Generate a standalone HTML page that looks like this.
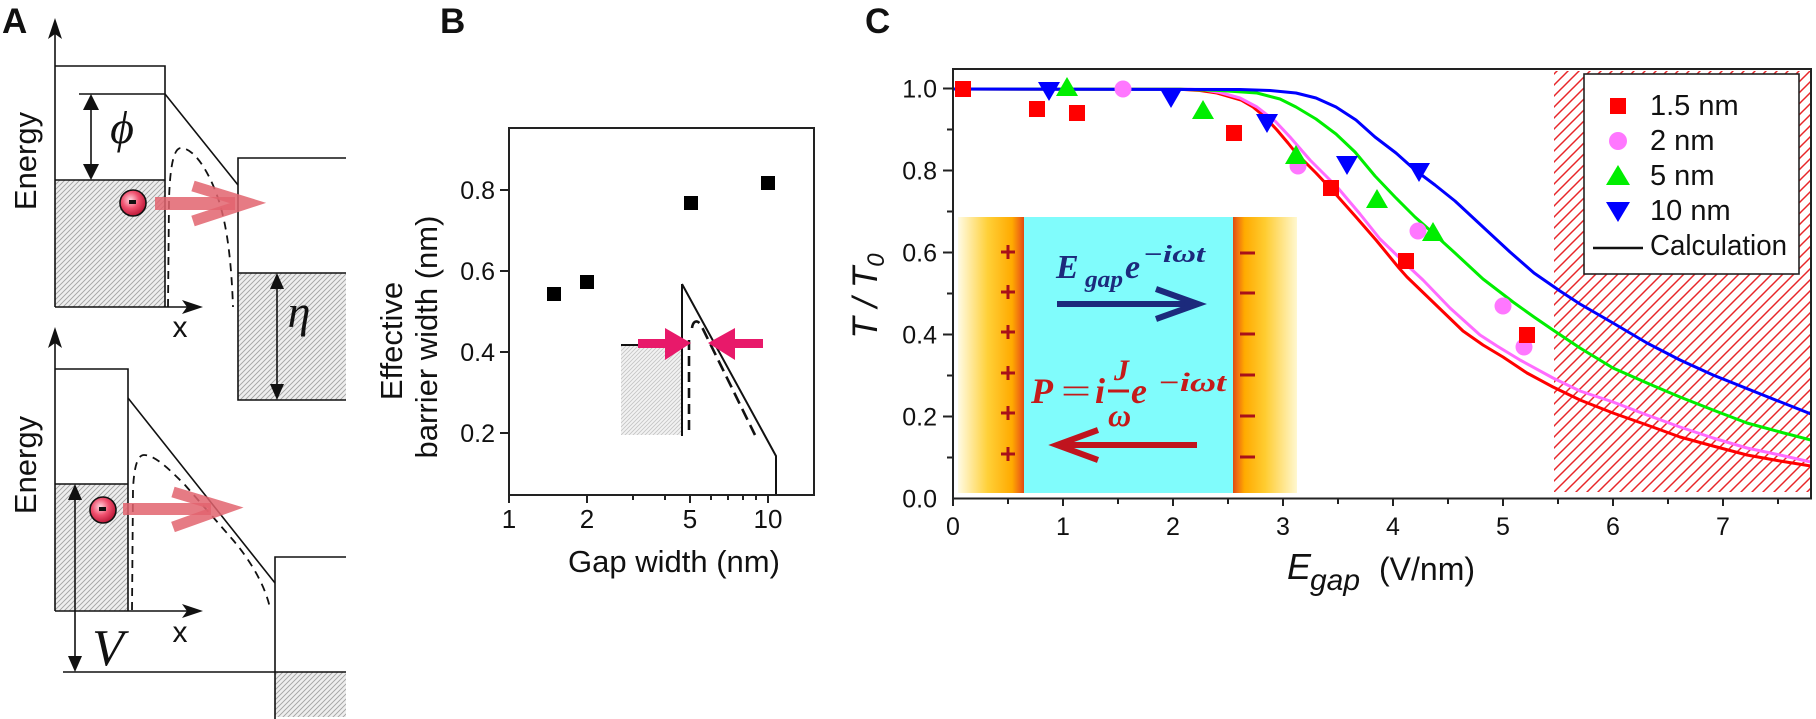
<!DOCTYPE html>
<html><head><meta charset="utf-8"><style>
html,body{margin:0;padding:0;background:#fff;}
svg{display:block;}
text{font-family:"Liberation Sans",Arial,sans-serif;fill:#111;}
.sf{font-family:"Liberation Serif","DejaVu Serif",serif;}
</style></head><body>
<svg width="1816" height="719" viewBox="0 0 1816 719" xmlns="http://www.w3.org/2000/svg">
<defs>
<pattern id="hA" width="5" height="5" patternUnits="userSpaceOnUse">
<rect width="5" height="5" fill="#eeeeee"/>
<path d="M-1,1 L1,-1 M0,5 L5,0 M4,6 L6,4" stroke="#a2a2a2" stroke-width="0.9"/>
</pattern>
<pattern id="hB" width="4" height="4" patternUnits="userSpaceOnUse">
<rect width="4" height="4" fill="#f2f2f2"/>
<path d="M-1,1 L1,-1 M0,4 L4,0 M3,5 L5,3" stroke="#c4c4c4" stroke-width="0.8"/>
</pattern>
<pattern id="hC" width="11" height="11" patternUnits="userSpaceOnUse">
<path d="M-1,1 L1,-1 M0,11 L11,0 M10,12 L12,10" stroke="#e8262a" stroke-width="1.5"/>
</pattern>
<radialGradient id="el" cx="0.4" cy="0.38" r="0.65">
<stop offset="0" stop-color="#ffd6e0"/><stop offset="0.5" stop-color="#f0506e"/><stop offset="1" stop-color="#b81434"/>
</radialGradient>
<linearGradient id="gl" x1="0" x2="1" y1="0" y2="0">
<stop offset="0" stop-color="#fffbe4"/><stop offset="0.45" stop-color="#ffd038"/><stop offset="0.82" stop-color="#ffaa00"/><stop offset="0.93" stop-color="#f07010"/><stop offset="1" stop-color="#e04a10"/>
</linearGradient>
<linearGradient id="gr" x1="1" x2="0" y1="0" y2="0">
<stop offset="0" stop-color="#fff8d0"/><stop offset="0.5" stop-color="#ffcc30"/><stop offset="0.82" stop-color="#ffaa00"/><stop offset="0.93" stop-color="#f07010"/><stop offset="1" stop-color="#e04a10"/>
</linearGradient>
<clipPath id="cp"><rect x="953" y="69" width="858" height="429"/></clipPath>
</defs>

<!-- ================= PANEL A ================= -->
<text x="2" y="33" font-size="35" font-weight="bold">A</text>
<!-- top diagram -->
<rect x="55" y="180" width="110" height="127" fill="url(#hA)"/>
<rect x="238" y="273" width="108" height="127" fill="url(#hA)"/>
<g stroke="#111" stroke-width="1.6" fill="none">
<line x1="55" y1="307" x2="55" y2="30"/>
<polyline points="55,66 165,66 165,307"/>
<line x1="79" y1="94" x2="165" y2="94"/>
<line x1="165" y1="94" x2="238" y2="185"/>
<line x1="55" y1="180" x2="165" y2="180"/>
<line x1="55" y1="307" x2="190" y2="307"/>
<polyline points="346,158 238,158 238,400 346,400"/>
<line x1="238" y1="273" x2="346" y2="273"/>
<line x1="91" y1="106" x2="91" y2="168"/>
<line x1="277" y1="286" x2="277" y2="388"/>
</g>
<path d="M55,18 L48,39 L55,34 L62,39 Z" fill="#111"/>
<path d="M203,307 L182,300 L187,307 L182,314 Z" fill="#111"/>
<path d="M91,94 L83,110 L99,110 Z M91,180 L83,164 L99,164 Z" fill="#111"/>
<path d="M277,273 L270,289 L284,289 Z M277,400 L270,384 L284,384 Z" fill="#111"/>
<path d="M168,307 L169,200 C170,165 174,148 181,148 C192,148 205,165 215,190 C225,215 231,250 233,307" fill="none" stroke="#111" stroke-width="1.8" stroke-dasharray="8,6"/>
<rect x="155" y="197" width="80" height="13" fill="#e2646e" fill-opacity="0.85"/>
<polyline points="193,186 248,203 193,221" fill="none" stroke="#e2646e" stroke-opacity="0.85" stroke-width="11"/>
<circle cx="133" cy="203" r="13" fill="url(#el)" stroke="#111" stroke-width="1.6"/>
<rect x="129" y="200" width="7" height="4" fill="#111"/>
<text x="122" y="143" font-size="46" class="sf" font-style="italic" text-anchor="middle">ϕ</text>
<text x="299" y="327" font-size="46" class="sf" font-style="italic" text-anchor="middle">η</text>
<text x="180" y="337" font-size="30" text-anchor="middle">x</text>
<text transform="translate(36,161) rotate(-90)" font-size="31" text-anchor="middle">Energy</text>

<!-- bottom diagram -->
<rect x="55" y="484" width="73" height="127" fill="url(#hA)"/>
<rect x="275" y="672" width="71" height="45" fill="url(#hA)"/>
<g stroke="#111" stroke-width="1.6" fill="none">
<line x1="55" y1="611" x2="55" y2="340"/>
<polyline points="55,369 128,369 128,611"/>
<line x1="128" y1="398" x2="275" y2="583"/>
<line x1="55" y1="484" x2="128" y2="484"/>
<line x1="55" y1="611" x2="190" y2="611"/>
<line x1="75" y1="498" x2="75" y2="658"/>
<line x1="63" y1="672" x2="346" y2="672"/>
<polyline points="275,719 275,557 346,557"/>
</g>
<path d="M55,327 L48,348 L55,343 L62,348 Z" fill="#111"/>
<path d="M203,611 L182,604 L187,611 L182,618 Z" fill="#111"/>
<path d="M75,484 L68,500 L82,500 Z M75,672 L68,656 L82,656 Z" fill="#111"/>
<path d="M132,610 L133,490 C134,465 138,455 144,455 C155,455 170,470 185,485 L233,540 C250,560 265,585 270,608" fill="none" stroke="#111" stroke-width="1.8" stroke-dasharray="8,6"/>
<rect x="123" y="503" width="88" height="12" fill="#e2646e" fill-opacity="0.85"/>
<polyline points="173,492 226,508 173,527" fill="none" stroke="#e2646e" stroke-opacity="0.85" stroke-width="11"/>
<circle cx="103" cy="510" r="13" fill="url(#el)" stroke="#111" stroke-width="1.6"/>
<rect x="99" y="507" width="7" height="4" fill="#111"/>
<text x="108" y="665" font-size="52" class="sf" font-style="italic" text-anchor="middle">V</text>
<text x="180" y="642" font-size="30" text-anchor="middle">x</text>
<text transform="translate(36,465) rotate(-90)" font-size="31" text-anchor="middle">Energy</text>

<!-- ================= PANEL B ================= -->
<text x="440" y="33" font-size="35" font-weight="bold">B</text>
<!-- inset -->
<rect x="621" y="345" width="60" height="90" fill="url(#hB)"/>
<g stroke="#111" stroke-width="2" fill="none">
<line x1="621" y1="345" x2="642" y2="345"/>
<line x1="682" y1="284" x2="682" y2="436"/>
<polyline points="682,284 776,456 776,494"/>
</g>
<line x1="689" y1="340" x2="689" y2="436" stroke="#111" stroke-width="2.6" stroke-dasharray="10,6"/>
<path d="M692,328 C693,321 697,319 701,325 L755,435" fill="none" stroke="#111" stroke-width="2.6" stroke-dasharray="12,6"/>
<rect x="638" y="339" width="29" height="9" fill="#e8196a"/>
<polygon points="665,328 691,343 665,360" fill="#e8196a"/>
<rect x="733" y="339" width="30" height="9" fill="#e8196a"/>
<polygon points="708,343 735,328 735,360" fill="#e8196a"/>
<!-- frame -->
<rect x="509" y="128" width="305" height="367" fill="none" stroke="#222" stroke-width="2"/>
<g stroke="#222" stroke-width="2">
<line x1="500" y1="190" x2="509" y2="190"/><line x1="500" y1="271" x2="509" y2="271"/>
<line x1="500" y1="352" x2="509" y2="352"/><line x1="500" y1="433" x2="509" y2="433"/>
<line x1="509" y1="495" x2="509" y2="503"/><line x1="587" y1="495" x2="587" y2="503"/>
<line x1="690" y1="495" x2="690" y2="503"/><line x1="768" y1="495" x2="768" y2="503"/>
<line x1="633" y1="495" x2="633" y2="500"/><line x1="665" y1="495" x2="665" y2="500"/>
<line x1="711" y1="495" x2="711" y2="500"/><line x1="728" y1="495" x2="728" y2="500"/>
<line x1="743" y1="495" x2="743" y2="500"/><line x1="756" y1="495" x2="756" y2="500"/>
</g>
<g font-size="25" text-anchor="end">
<text x="495" y="199">0.8</text><text x="495" y="280">0.6</text>
<text x="495" y="361">0.4</text><text x="495" y="442">0.2</text>
</g>
<g font-size="26" text-anchor="middle">
<text x="509" y="528">1</text><text x="587" y="528">2</text>
<text x="690" y="528">5</text><text x="768" y="528">10</text>
</g>
<text x="674" y="572" font-size="31" text-anchor="middle">Gap width (nm)</text>
<text transform="translate(402,341) rotate(-90)" font-size="31" text-anchor="middle">Effective</text>
<text transform="translate(437,337) rotate(-90)" font-size="31" text-anchor="middle">barrier width (nm)</text>
<g fill="#000">
<rect x="547" y="287" width="14" height="14"/><rect x="580" y="275" width="14" height="14"/>
<rect x="684" y="196" width="14" height="14"/><rect x="761" y="176" width="14" height="14"/>
</g>

<!-- ================= PANEL C ================= -->
<text x="865" y="33" font-size="35" font-weight="bold">C</text>
<!-- hatch -->
<rect x="1554" y="71" width="256" height="421" fill="url(#hC)"/>
<!-- inset -->
<rect x="958" y="217" width="66" height="276" fill="url(#gl)"/>
<rect x="1024" y="217" width="209" height="276" fill="#80fcfc"/>
<rect x="1233" y="217" width="64" height="276" fill="url(#gr)"/>
<g stroke="#a8101a" stroke-width="3">
<path d="M1001,252 H1015 M1008,245 V259"/>
<path d="M1001,292 H1015 M1008,285 V299"/>
<path d="M1001,332 H1015 M1008,325 V339"/>
<path d="M1001,373 H1015 M1008,366 V380"/>
<path d="M1001,413 H1015 M1008,406 V420"/>
<path d="M1001,454 H1015 M1008,447 V461"/>
<path d="M1240,253 H1255 M1240,293 H1255 M1240,334 H1255 M1240,375 H1255 M1240,416 H1255 M1240,457 H1255"/>
</g>
<g class="sf" font-style="italic" font-weight="bold">
<text class="sf" x="1056" y="278" font-size="34" style="fill:#1c2a7c">E</text>
<text class="sf" x="1085" y="287" font-size="24" textLength="38" lengthAdjust="spacingAndGlyphs" style="fill:#1c2a7c">gap</text>
<text class="sf" x="1125" y="278" font-size="34" style="fill:#1c2a7c">e</text>
<text class="sf" x="1143" y="262" font-size="24" textLength="62" lengthAdjust="spacingAndGlyphs" style="fill:#1c2a7c">−iωt</text>
<text class="sf" x="1031" y="403" font-size="36" style="fill:#c41a1a">P</text>
<text class="sf" x="1061" y="403" font-size="36" font-style="normal" font-weight="normal" textLength="30" lengthAdjust="spacingAndGlyphs" style="fill:#c41a1a">=</text>
<text class="sf" x="1095" y="403" font-size="36" style="fill:#c41a1a">i</text>
<text class="sf" x="1114" y="380" font-size="30" style="fill:#c41a1a">J</text>
<text class="sf" x="1108" y="426" font-size="32" style="fill:#c41a1a">ω</text>
<text class="sf" x="1131" y="403" font-size="36" style="fill:#c41a1a">e</text>
<text class="sf" x="1158" y="391" font-size="26" textLength="68" lengthAdjust="spacingAndGlyphs" style="fill:#c41a1a">−iωt</text>
</g>
<line x1="1108" y1="391" x2="1129" y2="391" stroke="#c41a1a" stroke-width="3"/>
<line x1="1057" y1="304" x2="1194" y2="304" stroke="#1c2a7c" stroke-width="6"/>
<polyline points="1156,289 1198,304 1156,319" fill="none" stroke="#1c2a7c" stroke-width="6"/>
<line x1="1197" y1="445" x2="1062" y2="445" stroke="#c0141e" stroke-width="6"/>
<polyline points="1098,430 1057,445 1098,460" fill="none" stroke="#c0141e" stroke-width="6"/>

<!-- curves -->
<g clip-path="url(#cp)" fill="none" stroke-width="3" stroke-linejoin="round">
<polyline stroke="#ff0000" points="953,89 1180,89.3 1200,90.5 1217,93 1241,100 1253,107 1265,117 1277,130 1288,143 1296,153 1316,173 1332,190 1356,217 1376,240 1399,268 1407,277 1435,304 1463,331 1483,345 1503,357 1527,373 1553,387 1580,400 1613,413 1647,425 1680,437 1713,446 1747,455 1780,461 1811,466"/>
<polyline stroke="#ff6cff" points="953,89 1190,89.3 1205,90 1220,92.5 1240,98 1257,107 1275,121 1290,137 1310,160 1338,188 1360,214 1380,239 1409,267 1423,280 1450,308 1480,335 1497,346 1520,360 1553,378 1580,391 1613,402 1647,415 1680,427 1713,438 1747,448 1780,455 1811,462"/>
<polyline stroke="#00ee00" points="953,89 1180,89.3 1220,90.5 1257,93 1280,99 1296,107 1316,119 1336,134 1355,152 1375,176 1395,197 1415,217 1433,233 1455,253 1483,279 1513,302 1534,317 1553,330 1580,348 1613,368 1647,383 1680,397 1713,410 1747,423 1780,432 1811,440"/>
<polyline stroke="#0000ff" points="953,89 1240,89.5 1270,90.5 1296,93 1316,98 1336,107 1356,120 1375,137 1396,153 1415,170 1435,185 1455,201 1483,227 1510,252 1534,273 1560,291 1580,304 1613,323 1647,343 1680,360 1713,375 1763,395 1811,414"/>
</g>
<!-- markers -->
<g fill="#ff77ff">
<circle cx="1123" cy="89" r="8.5"/><circle cx="1298" cy="166" r="8.5"/><circle cx="1418" cy="231" r="8.5"/>
<circle cx="1503" cy="306" r="8.5"/><circle cx="1524" cy="347" r="8.5"/>
</g>
<g fill="#0000ff">
<polygon points="1038,82 1060,82 1049,101"/><polygon points="1160,89 1182,89 1171,108"/>
<polygon points="1256,114 1278,114 1267,133"/><polygon points="1336,156 1358,156 1347,175"/>
<polygon points="1408,163 1430,163 1419,182"/>
</g>
<g fill="#00ee00">
<polygon points="1056,96 1078,96 1067,77"/><polygon points="1192,119 1214,119 1203,100"/>
<polygon points="1285,164 1307,164 1296,145"/><polygon points="1366,208 1388,208 1377,189"/>
<polygon points="1422,241 1444,241 1433,222"/>
</g>
<g fill="#ff0000">
<rect x="955" y="81" width="16" height="16"/><rect x="1029" y="101" width="16" height="16"/>
<rect x="1069" y="105" width="16" height="16"/><rect x="1226" y="125" width="16" height="16"/>
<rect x="1323" y="180" width="16" height="16"/><rect x="1398" y="253" width="16" height="16"/>
<rect x="1519" y="327" width="16" height="16"/>
</g>
<!-- legend -->
<rect x="1584" y="74" width="215" height="200" fill="#fff" stroke="#222" stroke-width="1.6"/>
<rect x="1610" y="98" width="16" height="16" fill="#ff0000"/>
<circle cx="1618" cy="141" r="9" fill="#ff77ff"/>
<polygon points="1606,185 1630,185 1618,165" fill="#00ee00"/>
<polygon points="1606,202 1630,202 1618,222" fill="#0000ff"/>
<line x1="1593" y1="248" x2="1643" y2="248" stroke="#111" stroke-width="2.5"/>
<g font-size="29">
<text x="1650" y="115">1.5 nm</text><text x="1650" y="150">2 nm</text>
<text x="1650" y="185">5 nm</text><text x="1650" y="220">10 nm</text>
<text x="1650" y="255" textLength="137" lengthAdjust="spacingAndGlyphs">Calculation</text>
</g>
<!-- frame & ticks -->
<rect x="953" y="69" width="858" height="429.5" fill="none" stroke="#222" stroke-width="2"/>
<g stroke="#222" stroke-width="2">
<line x1="943" y1="88.5" x2="953" y2="88.5"/><line x1="943" y1="170.5" x2="953" y2="170.5"/>
<line x1="943" y1="252.5" x2="953" y2="252.5"/><line x1="943" y1="334.5" x2="953" y2="334.5"/>
<line x1="943" y1="416.5" x2="953" y2="416.5"/>
<line x1="947" y1="129.5" x2="953" y2="129.5"/><line x1="947" y1="211.5" x2="953" y2="211.5"/>
<line x1="947" y1="293.5" x2="953" y2="293.5"/><line x1="947" y1="375.5" x2="953" y2="375.5"/>
<line x1="947" y1="457.5" x2="953" y2="457.5"/>
<line x1="953" y1="498" x2="953" y2="506"/><line x1="1063" y1="498" x2="1063" y2="506"/>
<line x1="1173" y1="498" x2="1173" y2="506"/><line x1="1283" y1="498" x2="1283" y2="506"/>
<line x1="1393" y1="498" x2="1393" y2="506"/><line x1="1503" y1="498" x2="1503" y2="506"/>
<line x1="1613" y1="498" x2="1613" y2="506"/><line x1="1723" y1="498" x2="1723" y2="506"/>
<line x1="1008" y1="498" x2="1008" y2="504"/><line x1="1118" y1="498" x2="1118" y2="504"/>
<line x1="1228" y1="498" x2="1228" y2="504"/><line x1="1338" y1="498" x2="1338" y2="504"/>
<line x1="1448" y1="498" x2="1448" y2="504"/><line x1="1558" y1="498" x2="1558" y2="504"/>
<line x1="1668" y1="498" x2="1668" y2="504"/><line x1="1778" y1="498" x2="1778" y2="504"/>
</g>
<g font-size="25" text-anchor="end">
<text x="937" y="97.5">1.0</text><text x="937" y="179.5">0.8</text>
<text x="937" y="261.5">0.6</text><text x="937" y="343.5">0.4</text>
<text x="937" y="425.5">0.2</text><text x="937" y="507.5">0.0</text>
</g>
<g font-size="25" text-anchor="middle">
<text x="953" y="535">0</text><text x="1063" y="535">1</text><text x="1173" y="535">2</text>
<text x="1283" y="535">3</text><text x="1393" y="535">4</text><text x="1503" y="535">5</text>
<text x="1613" y="535">6</text><text x="1723" y="535">7</text>
</g>
<text x="1287" y="579" font-size="36" font-style="italic">E</text>
<text x="1310" y="590" font-size="30" font-style="italic">gap</text>
<text x="1379" y="580" font-size="32">(V/nm)</text>
<text transform="translate(877,296) rotate(-90)" font-size="35" font-style="italic" text-anchor="middle">T / T<tspan font-size="24" dy="7">0</tspan></text>
</svg>
</body></html>
